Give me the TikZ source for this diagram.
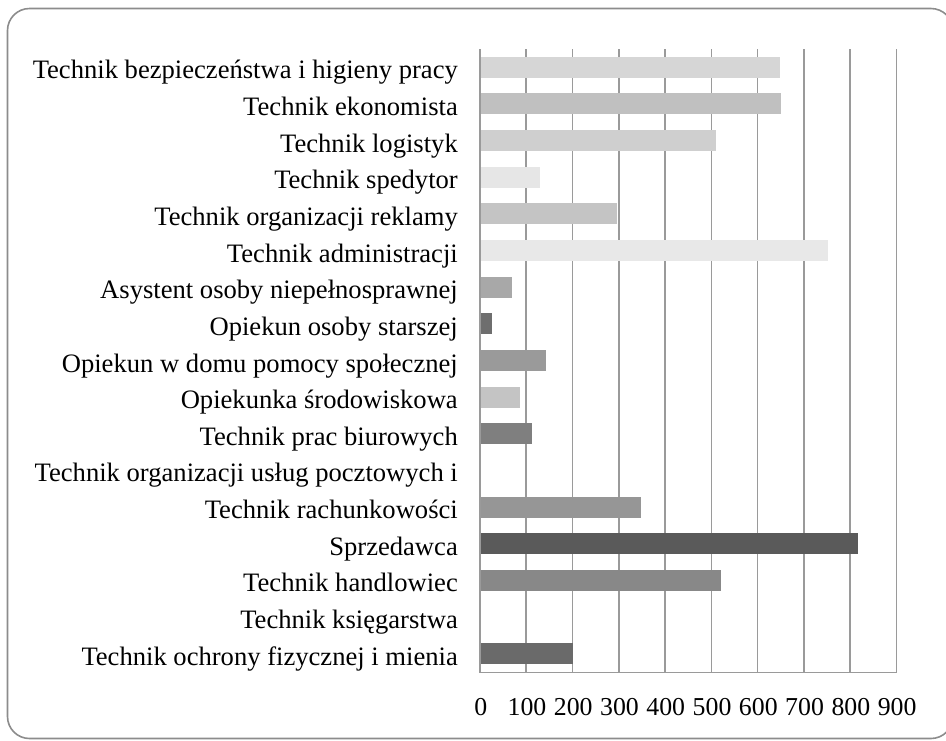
\documentclass[tikz,border=0pt]{standalone}
\usepackage{fontspec}
\setmainfont{Liberation Serif}
\begin{document}
\begin{tikzpicture}[x=1pt,y=-1pt,
  frame/.style={draw={rgb,255:red,140;green,140;blue,140},line width=1.6pt,rounded corners=22pt},
  grid/.style={draw={rgb,255:red,154;green,154;blue,154},line width=1.6pt},
  catlabel/.style={anchor=base east,inner sep=0pt,font=\fontsize{26.6}{30}\selectfont},
  ticklabel/.style={anchor=base,inner sep=0pt,font=\fontsize{25.8}{30}\selectfont}]
\useasboundingbox (0,0) rectangle (946,740);
\fill[white] (0,0) rectangle (946,740);
\begin{scope}
\clip (0,0) rectangle (946,740);
\draw[frame] (7.5,8.5) rectangle (953,738.5);
\end{scope}
% grid
\foreach \k in {0,...,9}{
  \draw[grid] ({480+\k*46.27},49) -- ({480+\k*46.27},672.5);
  \node[ticklabel] (t\k) at ({480.7+\k*46.27},715) {\the\numexpr\k*100\relax};
}
\draw[grid] (480,672.5) -- (896.4,672.5);
% bars and labels
\foreach \i/\lab/\v/\g in {
 1/Technik bezpieczeństwa i higieny pracy/648/214,
 2/Technik ekonomista/650/192,
 3/Technik logistyk/509/207,
 4/Technik spedytor/130/230,
 5/Technik organizacji reklamy/295/196,
 6/Technik administracji/753/232,
 7/Asystent osoby niepełnosprawnej/70/168,
 8/Opiekun osoby starszej/25/110,
 9/Opiekun w domu pomocy społecznej/142/154,
 10/Opiekunka środowiskowa/86/196,
 11/Technik prac biurowych/112/127,
 12/Technik organizacji usług pocztowych i/0/255,
 13/Technik rachunkowości/347/150,
 14/Sprzedawca/817/90,
 15/Technik handlowiec/520/136,
 16/Technik księgarstwa/0/255,
 17/Technik ochrony fizycznej i mienia/200/106}{
  \pgfmathsetmacro{\cy}{49+(\i-0.5)*36.65}
  \node[catlabel] (l\i) at (458,\cy+11.5) {\lab};
  \ifnum\v>0
    \fill[fill={rgb,255:red,\g;green,\g;blue,\g}] (481,\cy-10.5) rectangle ({480+\v*0.4627},\cy+10.5);
  \fi
}
\end{tikzpicture}
\end{document}
